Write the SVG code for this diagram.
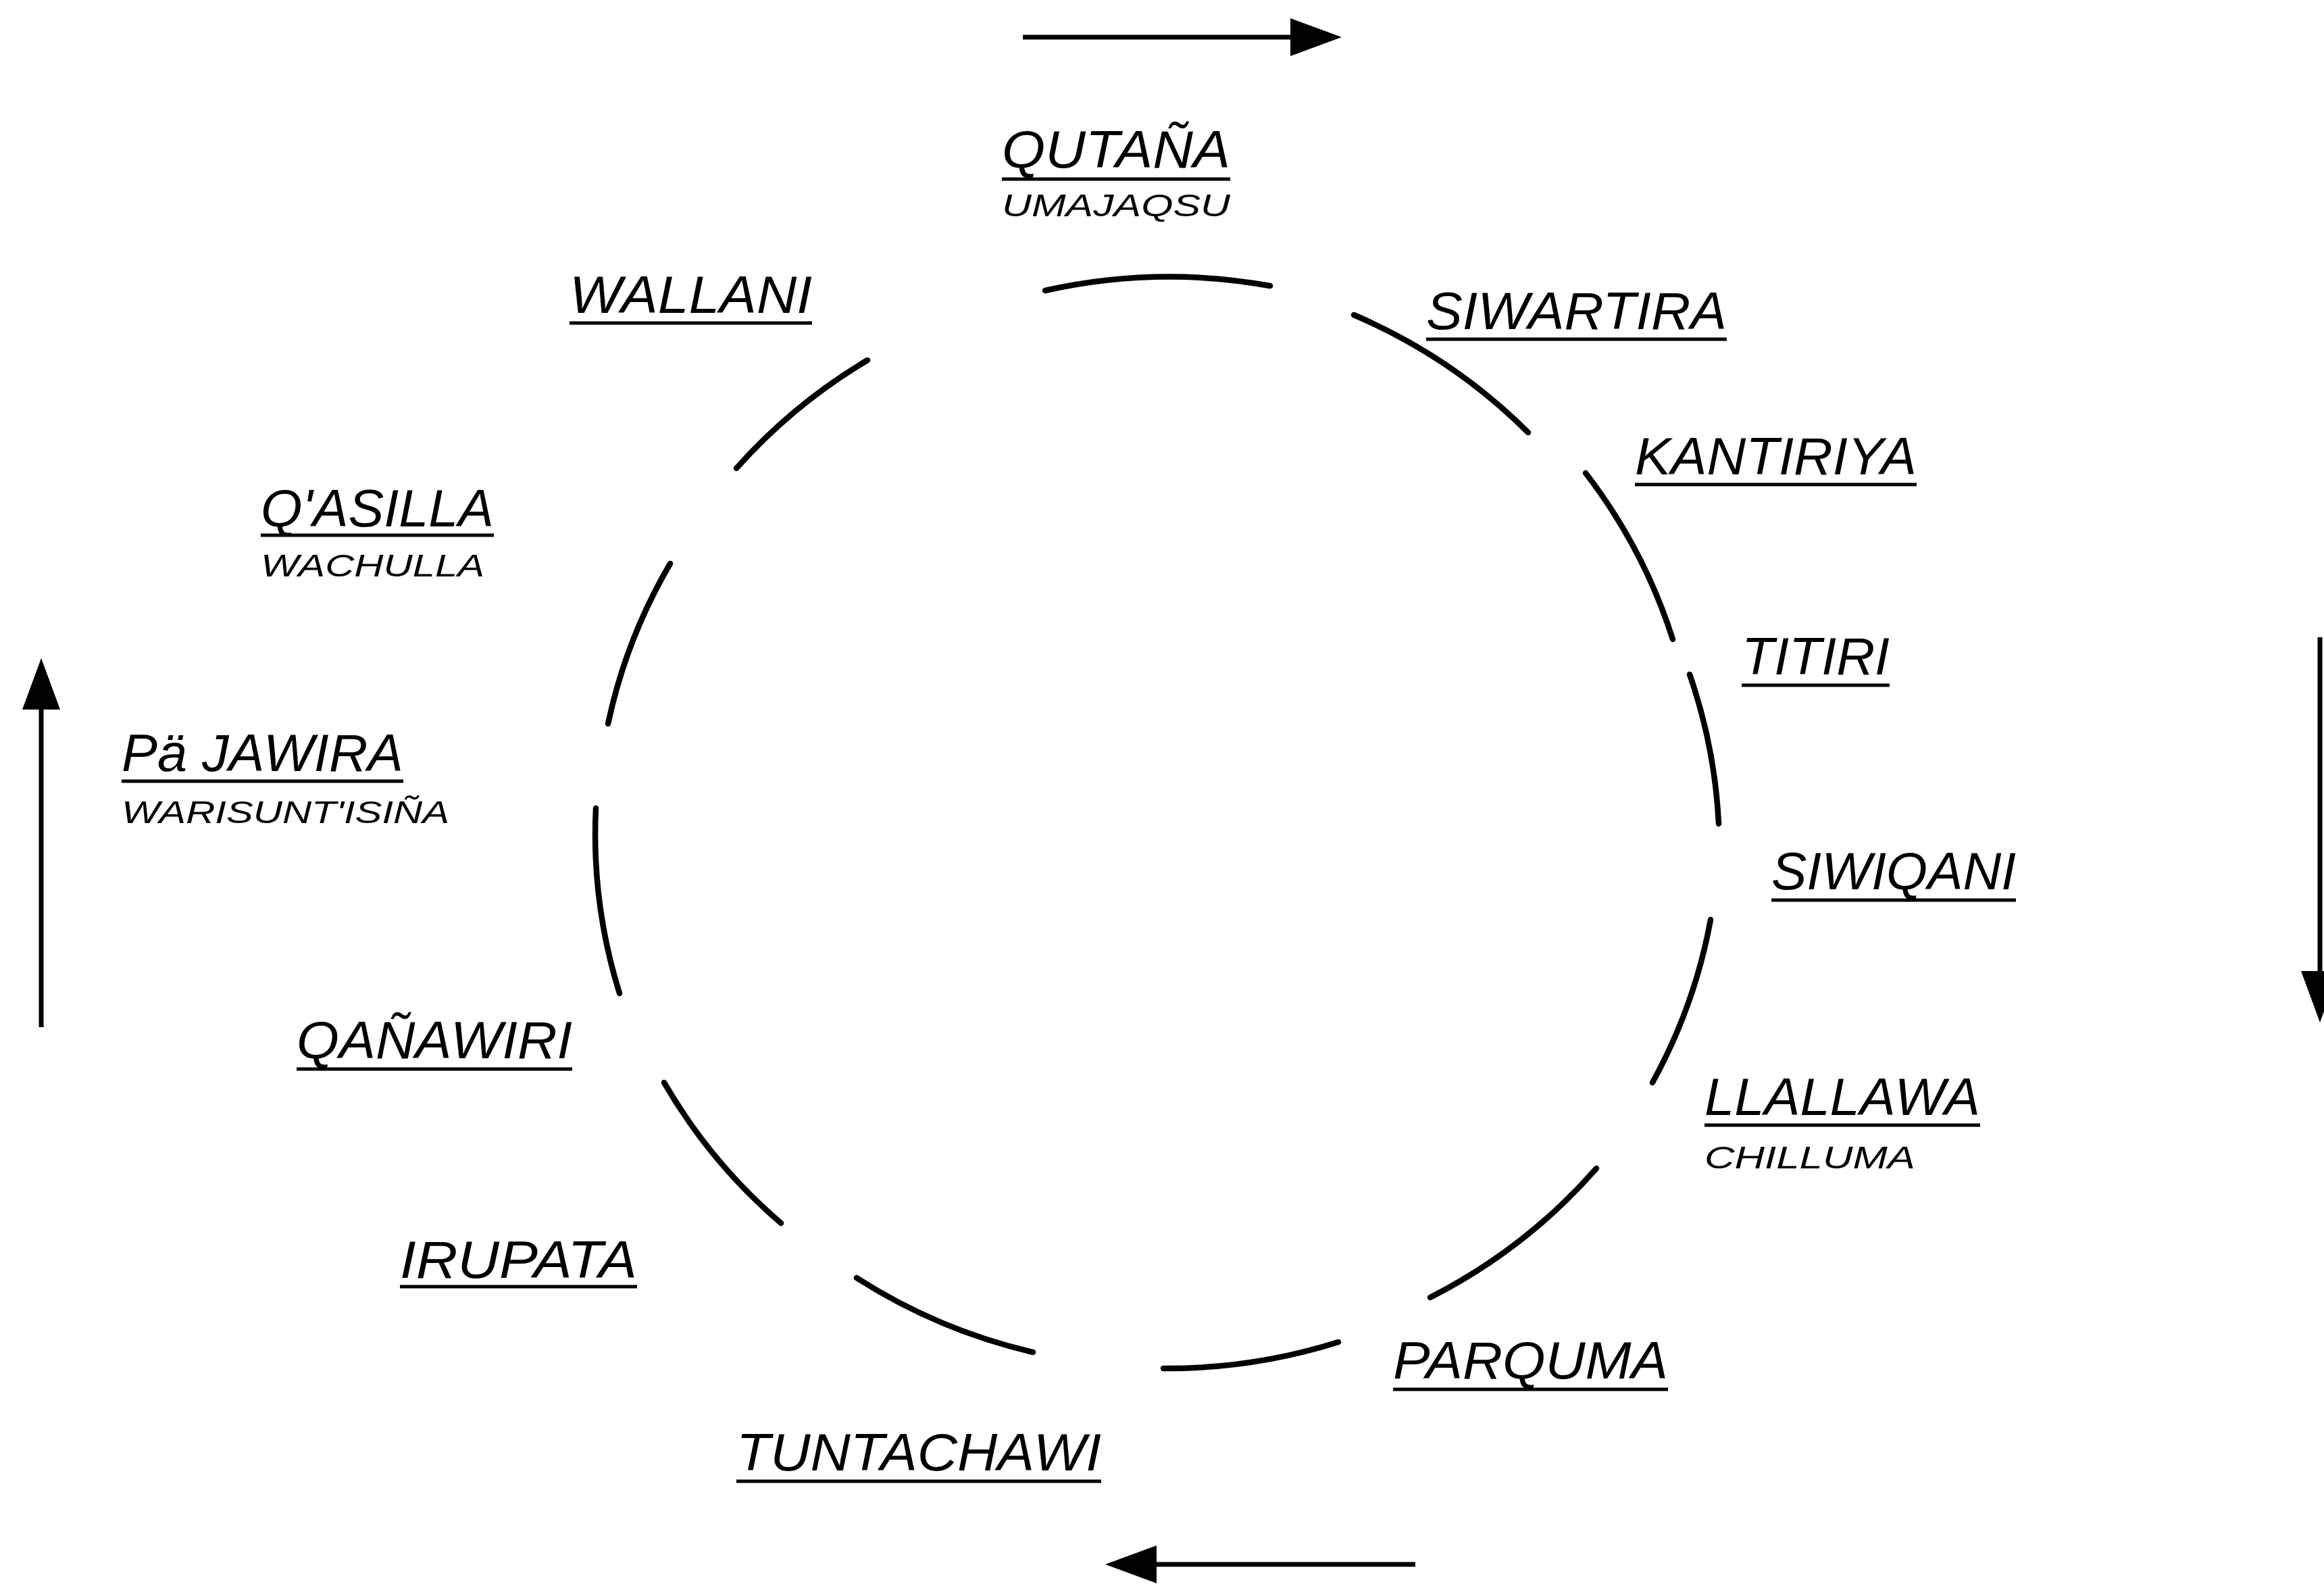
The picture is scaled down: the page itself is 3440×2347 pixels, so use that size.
<svg xmlns="http://www.w3.org/2000/svg" width="3440" height="2347" viewBox="0 0 3440 2347">
<style>
.lbl{font-family:"Liberation Sans",Arial,sans-serif;font-style:italic;font-size:78px;fill:#000}
.sub{font-family:"Liberation Sans",Arial,sans-serif;font-style:italic;font-size:46px;fill:#000}
.ul{stroke:#000;stroke-width:5;fill:none}
.arc{stroke:#000;stroke-width:8.5;fill:none;stroke-linecap:round}
.arr{stroke:#000;stroke-width:7;fill:none}
</style>
<defs>
<marker id="head" viewBox="0 0 76 56" refX="0" refY="28" markerWidth="76" markerHeight="56" markerUnits="userSpaceOnUse" orient="auto">
<path d="M0,0 L76,28 L0,56 Z" fill="#000"/>
</marker>
</defs>
<rect width="3440" height="2347" fill="#fff"/>
<g id="circle">
<path class="arc" d="M1547,430 A826 808 0 0 1 1880,423"/>
<path class="arc" d="M2004,466 A826 808 0 0 1 2262,640"/>
<path class="arc" d="M2347,700 A826 808 0 0 1 2476,946"/>
<path class="arc" d="M2501,998 A826 808 0 0 1 2544,1219"/>
<path class="arc" d="M2532,1361 A826 808 0 0 1 2446,1602"/>
<path class="arc" d="M2363,1729 A826 808 0 0 1 2117,1920"/>
<path class="arc" d="M1981,1986 A826 808 0 0 1 1722,2025"/>
<path class="arc" d="M1529,2001 A826 808 0 0 1 1268,1891"/>
<path class="arc" d="M1156,1810 A826 808 0 0 1 983,1602"/>
<path class="arc" d="M917,1470 A826 808 0 0 1 882,1196"/>
<path class="arc" d="M900,1071 A826 808 0 0 1 992,834"/>
<path class="arc" d="M1090,693 A826 808 0 0 1 1284,533"/>
</g>
<g id="connectors">
<line class="arr" x1="1514" y1="55" x2="1910" y2="55" marker-end="url(#head)"/>
<line class="arr" x1="3434" y1="943" x2="3434" y2="1437" marker-end="url(#head)"/>
<line class="arr" x1="2095" y1="2315" x2="1712" y2="2315" marker-end="url(#head)"/>
<line class="arr" x1="61" y1="1520" x2="61" y2="1050" marker-end="url(#head)"/>
</g>
<g id="qutana">
<text class="lbl" x="1483" y="248" textLength="338" lengthAdjust="spacingAndGlyphs">QUTAÑA</text>
<line class="ul" x1="1483" y1="265" x2="1821" y2="265"/>
<text class="sub" x="1483" y="320" textLength="338" lengthAdjust="spacingAndGlyphs">UMAJAQSU</text>
</g>
<g id="wallani">
<text class="lbl" x="843" y="463" textLength="359" lengthAdjust="spacingAndGlyphs">WALLANI</text>
<line class="ul" x1="843" y1="478" x2="1202" y2="478"/>
</g>
<g id="siwartira">
<text class="lbl" x="2111" y="487" textLength="445" lengthAdjust="spacingAndGlyphs">SIWARTIRA</text>
<line class="ul" x1="2111" y1="502" x2="2556" y2="502"/>
</g>
<g id="kantiriya">
<text class="lbl" x="2420" y="702" textLength="417" lengthAdjust="spacingAndGlyphs">KANTIRIYA</text>
<line class="ul" x1="2420" y1="717" x2="2837" y2="717"/>
</g>
<g id="titiri">
<text class="lbl" x="2578" y="998" textLength="219" lengthAdjust="spacingAndGlyphs">TITIRI</text>
<line class="ul" x1="2578" y1="1014" x2="2797" y2="1014"/>
</g>
<g id="siwiqani">
<text class="lbl" x="2622" y="1316" textLength="362" lengthAdjust="spacingAndGlyphs">SIWIQANI</text>
<line class="ul" x1="2622" y1="1332" x2="2984" y2="1332"/>
</g>
<g id="llallawa">
<text class="lbl" x="2523" y="1650" textLength="408" lengthAdjust="spacingAndGlyphs">LLALLAWA</text>
<line class="ul" x1="2523" y1="1665" x2="2931" y2="1665"/>
<text class="sub" x="2523" y="1729" textLength="312" lengthAdjust="spacingAndGlyphs">CHILLUMA</text>
</g>
<g id="parquma">
<text class="lbl" x="2062" y="2040" textLength="407" lengthAdjust="spacingAndGlyphs">PARQUMA</text>
<line class="ul" x1="2062" y1="2056" x2="2469" y2="2056"/>
</g>
<g id="tuntachawi">
<text class="lbl" x="1090" y="2176" textLength="540" lengthAdjust="spacingAndGlyphs">TUNTACHAWI</text>
<line class="ul" x1="1090" y1="2192" x2="1630" y2="2192"/>
</g>
<g id="irupata">
<text class="lbl" x="592" y="1891" textLength="351" lengthAdjust="spacingAndGlyphs">IRUPATA</text>
<line class="ul" x1="592" y1="1904" x2="943" y2="1904"/>
</g>
<g id="qanawiri">
<text class="lbl" x="439" y="1566" textLength="408" lengthAdjust="spacingAndGlyphs">QAÑAWIRI</text>
<line class="ul" x1="439" y1="1582" x2="847" y2="1582"/>
</g>
<g id="pa-jawira">
<text class="lbl" x="180" y="1141" textLength="417" lengthAdjust="spacingAndGlyphs">Pä JAWIRA</text>
<line class="ul" x1="180" y1="1156" x2="597" y2="1156"/>
<text class="sub" x="180" y="1218" textLength="485" lengthAdjust="spacingAndGlyphs">WARISUNT'ISIÑA</text>
</g>
<g id="qasilla">
<text class="lbl" x="386" y="779" textLength="345" lengthAdjust="spacingAndGlyphs">Q'ASILLA</text>
<line class="ul" x1="386" y1="792" x2="731" y2="792"/>
<text class="sub" x="386" y="853" textLength="331" lengthAdjust="spacingAndGlyphs">WACHULLA</text>
</g>
</svg>
